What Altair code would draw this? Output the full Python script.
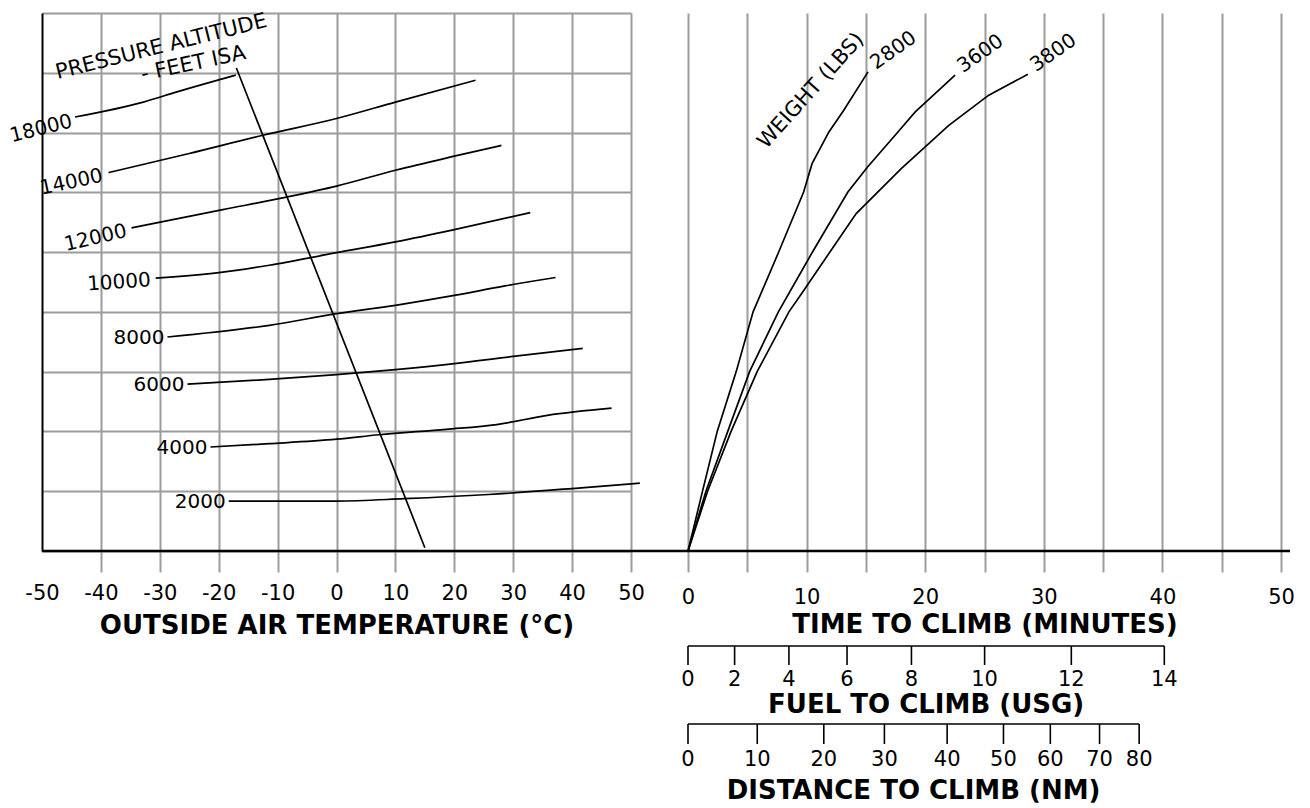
import math
import altair as alt
import pandas as pd

# ---------------- data ----------------
temp_ticks = [-50, -40, -30, -20, -10, 0, 10, 20, 30, 40, 50]
time_ticks = [0, 5, 10, 15, 20, 25, 30, 35, 40, 45, 50]
grid_levels = [0, 2, 4, 6, 8, 10, 12, 14, 16, 18]

# pressure-altitude curves: OAT (deg C) vs chart reference level
alt_names = ["2000", "4000", "6000", "8000", "10000", "12000", "14000", "18000"]
alt_T = [
    [-18.3, 0.0, 11.5, 25.8, 40.0, 51.5],
    [-21.4, -11.4, 0.0, 7.2, 18.6, 27.2, 35.8, 46.7],
    [-25.3, -11.4, 0.0, 10.0, 20.0, 30.0, 41.8],
    [-28.7, -11.4, 0.0, 10.0, 20.0, 28.6, 37.2],
    [-30.7, -19.3, -11.4, 0.0, 10.0, 20.0, 32.9],
    [-34.8, -19.3, -8.5, 0.0, 10.0, 20.0, 28.0],
    [-38.7, -25.0, -12.5, 0.0, 10.0, 23.6],
    [-44.4, -32.8, -27.1, -17.1],
]
alt_Y = [
    [1.67, 1.67, 1.75, 1.89, 2.09, 2.27],
    [3.48, 3.59, 3.74, 3.89, 4.07, 4.23, 4.54, 4.78],
    [5.58, 5.74, 5.90, 6.07, 6.27, 6.51, 6.78],
    [7.16, 7.55, 7.94, 8.22, 8.55, 8.87, 9.15],
    [9.13, 9.33, 9.56, 9.98, 10.34, 10.75, 11.32],
    [10.81, 11.42, 11.84, 12.21, 12.74, 13.21, 13.57],
    [12.66, 13.30, 13.91, 14.47, 15.02, 15.75],
    [14.52, 15.02, 15.36, 15.92],
]

# ISA line
isa_T = [-17.0, 15.0]
isa_Y = [16.16, 0.11]

# weight curves: time to climb (min) vs chart reference level
weight_names = ["2800", "3600", "3800"]
weight_t = [
    [0, 1.23, 2.47, 4.07, 5.49, 7.62, 9.75, 10.46, 11.88, 13.12, 15.18],
    [0, 1.52, 3.36, 5.20, 7.62, 10.46, 13.48, 15.14, 17.70, 19.16, 20.83, 22.52],
    [0, 1.66, 3.64, 5.84, 8.51, 9.57, 14.18, 17.98, 21.99, 25.36, 28.66],
]
weight_Y = [
    [0, 2.01, 4.01, 6.01, 8.0, 9.98, 12.01, 12.96, 14.02, 14.74, 16.03],
    [0, 2.01, 4.01, 6.01, 8.0, 9.98, 12.01, 12.85, 14.02, 14.69, 15.30, 15.92],
    [0, 2.01, 4.01, 6.01, 8.0, 8.61, 11.29, 12.79, 14.24, 15.25, 15.95],
]

# fuel and distance scales, as their position on the time scale (min)
fuel_usg = [0, 2, 4, 6, 8, 10, 12, 14]
fuel_at_time = [0, 3.93, 8.51, 13.41, 18.84, 25.01, 32.32, 40.16]
dist_nm = [0, 10, 20, 30, 40, 50, 60, 70, 80]
dist_at_time = [0, 5.84, 11.45, 16.56, 21.85, 26.60, 30.55, 34.70, 38.04]

# ---------------- tables ----------------
alt_df = pd.DataFrame(
    [(n, i, T, Y) for n, Ts, Ys in zip(alt_names, alt_T, alt_Y) for i, (T, Y) in enumerate(zip(Ts, Ys))],
    columns=["name", "i", "T", "Y"],
)
alt_first = pd.DataFrame([(n, Ts[0], Ys[0]) for n, Ts, Ys in zip(alt_names, alt_T, alt_Y)], columns=["name", "T", "Y"])
isa_df = pd.DataFrame({"T": isa_T, "Y": isa_Y, "i": range(len(isa_T))})
isa_top = isa_df.loc[[isa_df["Y"].idxmax()]]

w_df = pd.DataFrame(
    [(n, i, t, Y) for n, ts, Ys in zip(weight_names, weight_t, weight_Y) for i, (t, Y) in enumerate(zip(ts, Ys))],
    columns=["name", "i", "t", "Y"],
)
w_last = pd.DataFrame([(n, ts[-1], Ys[-1]) for n, ts, Ys in zip(weight_names, weight_t, weight_Y)], columns=["name", "t", "Y"])
fuel_df = pd.DataFrame({"t": fuel_at_time, "lab": [str(v) for v in fuel_usg]})
dist_df = pd.DataFrame({"t": dist_at_time, "lab": [str(v) for v in dist_nm]})

# ---------------- styles ----------------
W, H = 1239, 538
GRID = "#9c9c9c"
LBL_FONT = "DejaVu Sans"
TTL_FONT = "DejaVu Sans"
LBL_SIZE = 20
TTL_SIZE = 26


def rot_offset(Dx, Dy, angle_deg):
    """screen offset -> dx/dy in the rotated text frame (Vega applies dx/dy after rotation)"""
    th = math.radians(angle_deg)
    return Dx * math.cos(th) + Dy * math.sin(th), -Dx * math.sin(th) + Dy * math.cos(th)


temp_scale = alt.Scale(domain=[-50, 50], range=[0, 589], nice=False, zero=False)
time_scale = alt.Scale(domain=[0, 50], range=[646, W], nice=False, zero=False)
y_scale = alt.Scale(domain=[0, 18], nice=False, zero=False)

y_axis = alt.Axis(values=grid_levels, grid=True, gridColor=GRID, gridWidth=2, labels=False,
                  ticks=False, domain=True, domainColor="black", domainWidth=2, title=None)

common_x = dict(orient="bottom", grid=True, gridWidth=2, ticks=True, tickSize=21, tickWidth=2,
                domain=False, labelFont=LBL_FONT, labelFontSize=21, labelColor="black",
                labelFlush=False, labelOverlap=False, titleFont=TTL_FONT, titleFontSize=TTL_SIZE,
                titleFontWeight="bold", titleColor="black")

temp_axis = alt.Axis(values=temp_ticks, title="OUTSIDE AIR TEMPERATURE (°C)",
                     labelExpr="'' + datum.value",
                     gridColor={"condition": {"test": "datum.value == -50", "value": "transparent"}, "value": GRID},
                     tickColor={"condition": {"test": "datum.value == -50", "value": "transparent"}, "value": GRID},
                     labelPadding=10, titlePadding=9, **common_x)
time_axis = alt.Axis(values=time_ticks, title="TIME TO CLIMB (MINUTES)",
                     labelExpr="datum.value % 10 == 0 ? '' + datum.value : ''",
                     gridColor=GRID, tickColor=GRID, labelPadding=14, titlePadding=4, **common_x)

Xt = lambda f: alt.X(f, type="quantitative", scale=temp_scale, axis=temp_axis)
Xm = lambda f: alt.X(f, type="quantitative", scale=time_scale, axis=time_axis)
Yy = alt.Y("Y:Q", scale=y_scale, axis=y_axis)

# ---------------- left panel ----------------
alt_lines = alt.Chart(alt_df).mark_line(color="black", strokeWidth=1.7, interpolate="monotone").encode(
    x=Xt("T"), y=Yy, detail="name:N", order="i:Q")
isa_line = alt.Chart(isa_df).mark_line(color="black", strokeWidth=1.7).encode(x=Xt("T"), y=Yy, order="i:Q")

label_angle = {"18000": 346, "14000": 348, "12000": 347, "10000": 356}
label_shift = {"18000": (-3, 4), "14000": (-6, 3), "12000": (-5, 3), "10000": (-5, 2)}
alt_labels = []
for n in alt_names:
    ang = label_angle.get(n, 0)
    ddx, ddy = rot_offset(*label_shift.get(n, (-3, 1)), ang)
    alt_labels.append(
        alt.Chart(alt_first).transform_filter(alt.datum.name == n).mark_text(
            align="right", baseline="middle", font=LBL_FONT, fontSize=LBL_SIZE, color="black",
            angle=ang, dx=ddx, dy=ddy,
        ).encode(x=Xt("T"), y=Yy, text="name:N")
    )

d1 = rot_offset(-75, -21, 346)
pa_title1 = alt.Chart(isa_top).mark_text(
    text="PRESSURE ALTITUDE", align="center", baseline="middle", font=LBL_FONT, fontSize=21,
    color="black", angle=346, dx=d1[0], dy=d1[1]).encode(x=Xt("T"), y=Yy)
d2 = rot_offset(-43, -4, 348)
pa_title2 = alt.Chart(isa_top).mark_text(
    text="- FEET ISA", align="center", baseline="middle", font=LBL_FONT, fontSize=21,
    color="black", angle=348, dx=d2[0], dy=d2[1]).encode(x=Xt("T"), y=Yy)

bottom_line = alt.Chart(isa_top).mark_rule(color="black", strokeWidth=2.5).encode(
    x=alt.value(0), x2=alt.value(W + 9), y=alt.value(H))

left = alt.layer(alt_lines, isa_line, *alt_labels, pa_title1, pa_title2, bottom_line)

# ---------------- right panel ----------------
w_lines = alt.Chart(w_df).mark_line(color="black", strokeWidth=1.7).encode(
    x=Xm("t"), y=Yy, detail="name:N", order="i:Q")
dw = rot_offset(8, -2, 325)
w_labels = alt.Chart(w_last).mark_text(
    align="left", baseline="alphabetic", font=LBL_FONT, fontSize=LBL_SIZE, color="black", angle=325,
    dx=dw[0], dy=dw[1]
).encode(x=Xm("t"), y=Yy, text="name:N")
dt = rot_offset(-57, 19, 312)
w_title = alt.Chart(w_last).transform_filter(alt.datum.name == weight_names[0]).mark_text(
    text="WEIGHT (LBS)", align="center", baseline="middle", font=LBL_FONT, fontSize=21, color="black",
    angle=312, dx=dt[0], dy=dt[1]).encode(x=Xm("t"), y=Yy)


def sub_scale(df, y_line, tick_len, y_lab, y_title, title):
    line = alt.Chart(df).mark_rule(color="black", strokeWidth=1.6).encode(
        x=Xm("min(t)"), x2="max(t):Q", y=alt.value(y_line))
    ticks = alt.Chart(df).mark_rule(color="black", strokeWidth=1.6).encode(
        x=Xm("t"), y=alt.value(y_line), y2=alt.value(y_line + tick_len))
    labs = alt.Chart(df).mark_text(baseline="middle", font=LBL_FONT, fontSize=21, color="black").encode(
        x=Xm("t"), y=alt.value(y_lab), text="lab:N")
    ttl = alt.Chart(df).transform_aggregate(lo="min(t)", hi="max(t)").transform_calculate(
        mid="(datum.lo + datum.hi) / 2").mark_text(
        text=title, baseline="middle", font=TTL_FONT, fontSize=TTL_SIZE, fontWeight="bold", color="black").encode(
        x=Xm("mid"), y=alt.value(y_title))
    return [line, ticks, labs, ttl]


fuel_layers = sub_scale(fuel_df, 633, 19, 667, 692, "FUEL TO CLIMB (USG)")
dist_layers = sub_scale(dist_df, 711, 20, 747, 778, "DISTANCE TO CLIMB (NM)")

right = alt.layer(w_lines, w_labels, w_title, *fuel_layers, *dist_layers)

chart = (
    alt.layer(left, right)
    .resolve_scale(x="independent")
    .properties(width=W, height=H, autosize=alt.AutoSizeParams(type="none"),
                padding={"left": 34, "top": 5, "right": 20, "bottom": 258})
    .configure_view(stroke=None)
)

chart.save("out.html", embed_options={"renderer": "svg", "actions": False})
